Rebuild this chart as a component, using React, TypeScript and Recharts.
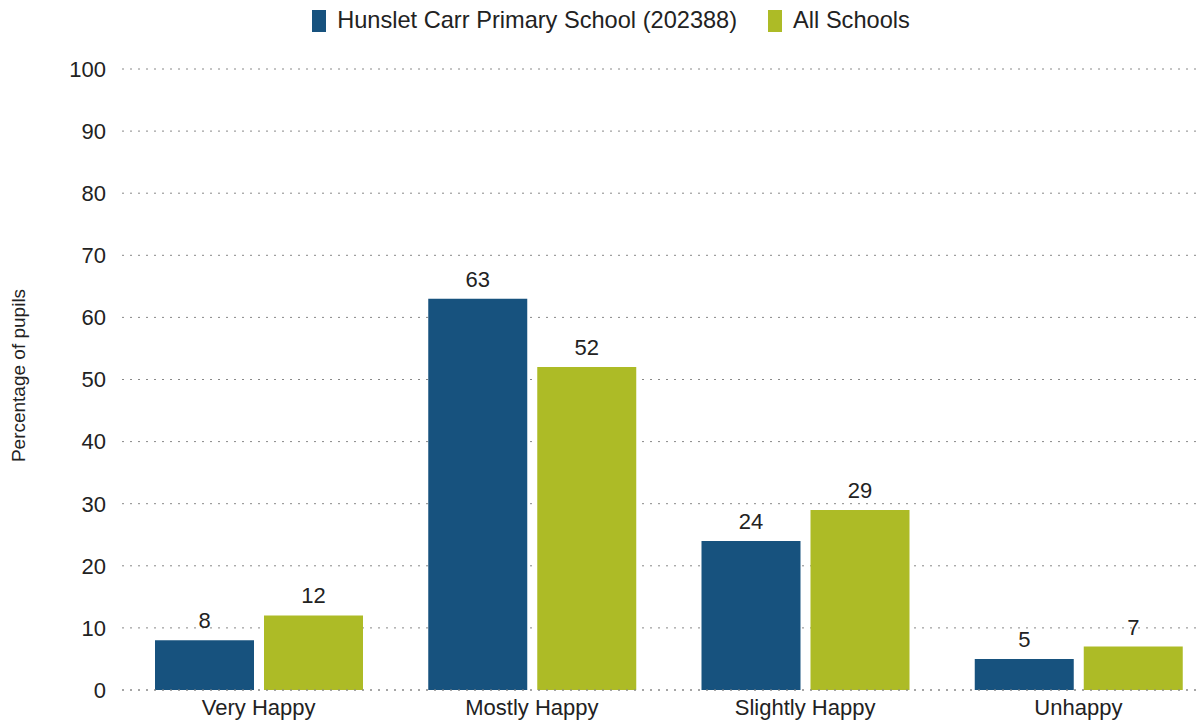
import { BarChart, Bar, XAxis, YAxis, CartesianGrid, LabelList } from "recharts";

const categories = ["Very Happy", "Mostly Happy", "Slightly Happy", "Unhappy"];
const schoolValues = [8, 63, 24, 5];
const allSchoolsValues = [12, 52, 29, 7];
const yTicks = [0, 10, 20, 30, 40, 50, 60, 70, 80, 90, 100];

const schoolName = "Hunslet Carr Primary School (202388)";
const allName = "All Schools";

const BLUE = "#17527e";
const GREEN = "#adbb26";
const FONT = "'Liberation Sans', Arial, sans-serif";

const data = categories.map((name, i) => ({
  name,
  school: schoolValues[i],
  all: allSchoolsValues[i],
}));

function LegendBox() {
  const item = (color: string, label: string, gap: number) => (
    <div style={{ display: "flex", alignItems: "center", marginRight: gap }}>
      <div style={{ width: 14, height: 22, background: color, marginRight: 11 }} />
      <span style={{ fontSize: 23.6, color: "#222" }}>{label}</span>
    </div>
  );
  return (
    <div
      style={{
        position: "absolute",
        top: 7,
        left: 0,
        width: 1222,
        display: "flex",
        justifyContent: "center",
        fontFamily: FONT,
      }}
    >
      {item(BLUE, schoolName, 31)}
      {item(GREEN, allName, 0)}
    </div>
  );
}

export default function App() {
  return (
    <div
      style={{
        position: "absolute",
        left: 0,
        top: 0,
        width: 1202,
        height: 724,
        overflow: "hidden",
        background: "#fff",
        fontFamily: FONT,
      }}
    >
      <LegendBox />
      <BarChart
        width={1215}
        height={724}
        data={data}
        margin={{ top: 69, right: 0, left: 0, bottom: 0 }}
        barCategoryGap="12%"
        barGap={10}
      >
        <CartesianGrid vertical={false} stroke="#888" strokeDasharray="2 6" />
        <XAxis
          dataKey="name"
          height={34}
          axisLine={{ stroke: "#888", strokeDasharray: "2 6" }}
          tickLine={false}
          tickMargin={3}
          tick={{ fill: "#222", fontSize: 22, fontFamily: FONT }}
        />
        <YAxis
          width={122}
          domain={[0, 100]}
          ticks={yTicks}
          axisLine={false}
          tickLine={false}
          tickMargin={10}
          tick={{ fill: "#222", fontSize: 22, fontFamily: FONT }}
          label={{
            value: "Percentage of pupils",
            angle: -90,
            position: "insideLeft",
            offset: 18,
            dy: -4,
            style: { textAnchor: "middle", fontSize: 19, fill: "#222", fontFamily: FONT },
          }}
        />
        <Bar dataKey="school" name={schoolName} fill={BLUE} barSize={99} isAnimationActive={false}>
          <LabelList dataKey="school" position="top" offset={12} fill="#222" fontSize={22} fontFamily={FONT} />
        </Bar>
        <Bar dataKey="all" name={allName} fill={GREEN} barSize={99} isAnimationActive={false}>
          <LabelList dataKey="all" position="top" offset={12} fill="#222" fontSize={22} fontFamily={FONT} />
        </Bar>
      </BarChart>
    </div>
  );
}
